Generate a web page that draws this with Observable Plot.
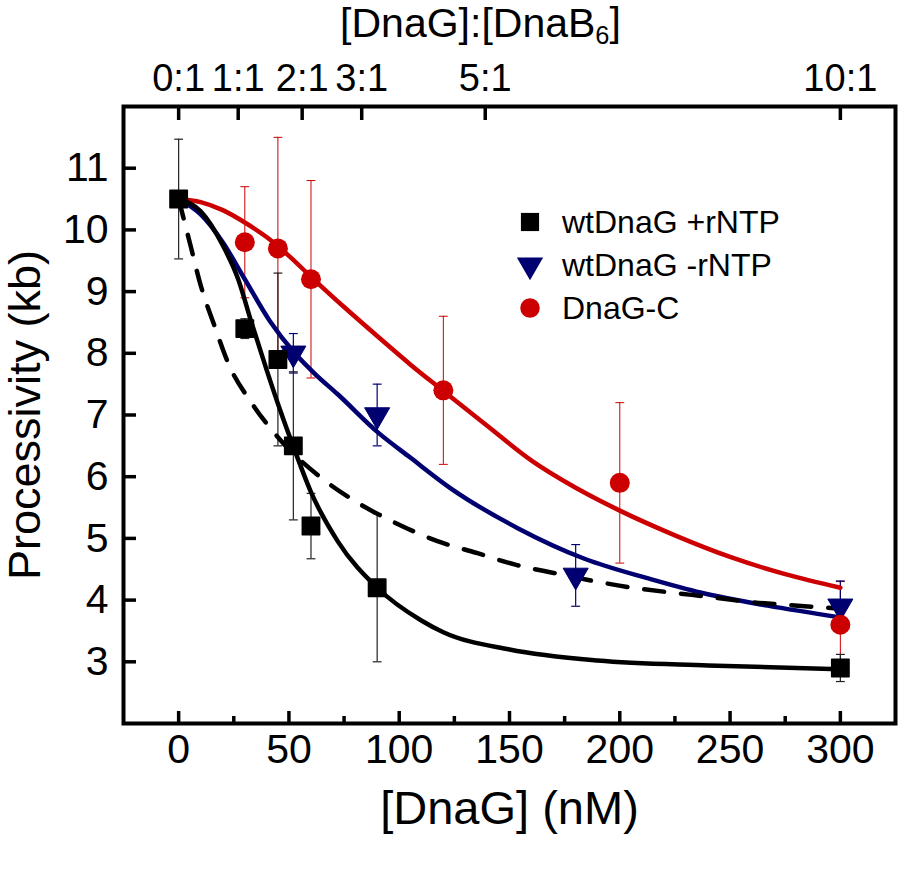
<!DOCTYPE html>
<html><head><meta charset="utf-8">
<script src="https://cdn.jsdelivr.net/npm/d3@7"></script>
<script src="https://cdn.jsdelivr.net/npm/@observablehq/plot@0.6"></script>
<style>
body{margin:0;background:#fff;}
#wrap{position:relative;width:899px;height:890px;font-family:"Liberation Sans",Arial,sans-serif;}
#wrap svg{font-family:"Liberation Sans",Arial,sans-serif;overflow:visible;}
g[aria-label="x-axis label"]{font-size:47px;}
g[aria-label="y-axis label"]{font-size:45px;}
g[aria-label="x-axis tick label"], g[aria-label="y-axis tick label"]{font-size:41px;}
#legend{position:absolute;left:0;top:0;pointer-events:none;}
</style>
</head><body>
<div id="wrap"></div>
<script>
// ---- measured points ----
const conc_rNTP = [0, 30, 45, 52, 60, 90, 300];
const proc_rNTP = [10.5, 8.4, 7.9, 6.5, 5.2, 4.2, 2.9];
const err_rNTP  = [0.97, 0.16, 1.4, 1.2, 0.53, 1.2, 0.22];

const conc_noNTP = [52, 90, 180, 300];
const proc_noNTP = [8.0, 7.0, 4.4, 3.9];
const err_noNTP  = [0.32, 0.5, 0.5, 0.41];

const conc_C = [30, 45, 60, 120, 200, 300];
const proc_C = [9.8, 9.7, 9.2, 7.4, 5.9, 3.6];
const err_C  = [0.9, 1.8, 1.6, 1.2, 1.3, 0.7];

// ---- fitted curves ----
const fitX_rNTP = [0, 10, 20, 27, 33, 40, 46, 52.7, 60, 72, 90, 110, 120, 150, 190, 240, 300];
const fitY_rNTP = [10.5, 10.3, 9.75, 9.2, 8.5, 7.72, 7.08, 6.42, 5.75, 4.96, 4.2, 3.67, 3.48, 3.2, 3.02, 2.94, 2.88];

const fitX_dash = [0, 5.5, 10, 16, 22.7, 33, 46, 64, 82, 99.5, 117, 135.5, 153, 170, 206, 224, 241, 259, 277, 300];
const fitY_dash = [10.5, 9.73, 9.1, 8.47, 7.82, 7.2, 6.6, 6.0, 5.56, 5.23, 4.96, 4.76, 4.57, 4.44, 4.2, 4.12, 4.05, 3.97, 3.92, 3.86];

const fitX_noNTP = [0, 10, 20, 30, 41.4, 52.7, 62, 72, 90.6, 105, 123, 153.5, 184, 214, 237, 267, 300];
const fitY_noNTP = [10.5, 10.25, 9.8, 9.2, 8.52, 8.0, 7.66, 7.34, 6.71, 6.31, 5.82, 5.17, 4.67, 4.34, 4.12, 3.91, 3.72];

const fitX_C = [0, 10, 20, 30, 40, 50, 60, 75, 90, 105, 120, 140, 160, 180, 200, 225, 250, 275, 300];
const fitY_C = [10.5, 10.45, 10.32, 10.12, 9.88, 9.58, 9.24, 8.75, 8.28, 7.82, 7.39, 6.82, 6.26, 5.82, 5.45, 5.05, 4.7, 4.42, 4.2];

// ---- axes ----
const xTicks = [0, 50, 100, 150, 200, 250, 300];
const xMinorTicks = [25, 75, 125, 175, 225, 275];
const yTicks = [3, 4, 5, 6, 7, 8, 9, 10, 11];
const ratioTicks = [0, 27, 56, 83, 139, 300];
const ratioLabels = ["0:1", "1:1", "2:1", "3:1", "5:1", "10:1"];

const seriesNames = ["wtDnaG +rNTP", "wtDnaG -rNTP", "DnaG-C"];
const colBlack = "#000000", colNavy = "#000070", colRed = "#cc0000";

// ---- tables ----
const pts = (xs, ys, es) => xs.map((x, i) => ({x, y: ys[i], e: es[i]}));
const crv = (xs, ys) => xs.map((x, i) => ({x, y: ys[i]}));
const dA = pts(conc_rNTP, proc_rNTP, err_rNTP);
const dB = pts(conc_noNTP, proc_noNTP, err_noNTP);
const dC = pts(conc_C, proc_C, err_C);
const cA = crv(fitX_rNTP, fitY_rNTP);
const cD = crv(fitX_dash, fitY_dash);
const cB = crv(fitX_noNTP, fitY_noNTP);
const cC = crv(fitX_C, fitY_C);
const ratioMap = new Map(ratioTicks.map((t, i) => [t, ratioLabels[i]]));

const cap = {draw(ctx, size){ const w = Math.sqrt(size); ctx.moveTo(-w/2, 0); ctx.lineTo(w/2, 0); }};

function errMarks(d, color, w) {
  return [
    Plot.ruleX(d, {x: "x", y1: r => r.y - r.e, y2: r => r.y + r.e, stroke: color, strokeWidth: w}),
    Plot.dot(d, {x: "x", y: r => r.y + r.e, symbol: cap, r: 5, stroke: color, strokeWidth: w}),
    Plot.dot(d, {x: "x", y: r => r.y - r.e, symbol: cap, r: 5, stroke: color, strokeWidth: w})
  ];
}

const chart = Plot.plot({
  width: 899, height: 890,
  marginLeft: 123, marginRight: 4, marginTop: 106, marginBottom: 167,
  style: {fontFamily: '"Liberation Sans", Arial, sans-serif', background: "#fff", color: "#000"},
  x: {domain: [-25, 325]},
  y: {domain: [2, 12]},
  marks: [
    ...errMarks(dC, colRed, 1),
    ...errMarks(dB, colNavy, 1.2),
    ...errMarks(dA, "#222", 1.2),
    Plot.line(cC, {x: "x", y: "y", stroke: colRed, strokeWidth: 4.5, curve: "monotone-x"}),
    Plot.line(cB, {x: "x", y: "y", stroke: colNavy, strokeWidth: 4.5, curve: "monotone-x"}),
    Plot.line(cD, {x: "x", y: "y", stroke: colBlack, strokeWidth: 4.5, strokeDasharray: "20,17", curve: "monotone-x"}),
    Plot.line(cA, {x: "x", y: "y", stroke: colBlack, strokeWidth: 4.5, curve: "monotone-x"}),
    Plot.dot(dB, {x: "x", y: "y", symbol: "triangle", rotate: 180, r: 9.3, fill: colNavy, stroke: colNavy, strokeWidth: 1, strokeLinejoin: "round"}),
    Plot.dot(dC, {x: "x", y: "y", symbol: "circle", r: 10, fill: colRed, stroke: "none"}),
    Plot.dot(dA, {x: "x", y: "y", symbol: "square", r: 9.8, fill: colBlack, stroke: colBlack, strokeWidth: 1.5, strokeLinejoin: "round"}),
    Plot.frame({stroke: "#000", strokeWidth: 4}),
    // bottom axis
    Plot.axisX({anchor: "bottom", ticks: xTicks, tickSize: 0, tickPadding: 10, label: "[DnaG] (nM)", labelAnchor: "center", labelArrow: "none", labelOffset: 100}),
    Plot.axisX({anchor: "bottom", ticks: xTicks, tickSize: -12, strokeWidth: 3.5, tickFormat: () => "", label: null}),
    Plot.axisX({anchor: "bottom", ticks: xMinorTicks, tickSize: -7, strokeWidth: 3.5, tickFormat: () => "", label: null}),
    // top axis
    Plot.axisX({anchor: "top", ticks: ratioTicks, tickSize: 0, tickPadding: 16, tickFormat: d => ratioMap.get(d), label: "[DnaG]:[DnaB6]", labelAnchor: "center", labelArrow: "none", labelOffset: 99}),
    Plot.axisX({anchor: "top", ticks: ratioTicks, tickSize: -13, strokeWidth: 3.5, tickFormat: () => "", label: null}),
    // left axis
    Plot.axisY({anchor: "left", ticks: yTicks, tickSize: 0, tickPadding: 15, label: "Processivity (kb)", labelAnchor: "center", labelArrow: "none", labelOffset: 115}),
    Plot.axisY({anchor: "left", ticks: yTicks, tickSize: -13, strokeWidth: 3.5, tickFormat: () => "", label: null})
  ]
});

document.getElementById("wrap").appendChild(chart);

// top axis tick labels a bit smaller (as in the original)
const ratioSet = new Set(ratioLabels);
d3.select(chart).selectAll("text").each(function() {
  if (ratioSet.has(this.textContent)) d3.select(this).attr("font-size", 38).style("font-size", "38px");
});

// subscript in the top title, nudged left as in the original
d3.select(chart).selectAll("text").each(function() {
  if (this.textContent === "[DnaG]:[DnaB6]") {
    const t = d3.select(this);
    const prev = t.attr("transform") || "";
    t.style("font-size", "41px").attr("transform", `translate(-29,0) ${prev}`);
    t.text("");
    t.append("tspan").text("[DnaG]:[DnaB");
    t.append("tspan").attr("font-size", "0.62em").attr("dy", "0.3em").text("6");
    t.append("tspan").attr("dy", "-0.19em").text("]");
  }
});

// legend
const legendSymbols = [d3.symbolSquare, d3.symbolTriangle, d3.symbolCircle];
const legendColors = [colBlack, colNavy, colRed];
const legendSizes = [330, 300, 300];
const legendRot = [0, 180, 0];
const lg = d3.select("#wrap").append("svg").attr("id", "legend").attr("width", 899).attr("height", 890);
seriesNames.forEach((name, i) => {
  const cy = 222 + i * 43;
  lg.append("path")
    .attr("d", d3.symbol(legendSymbols[i], legendSizes[i])())
    .attr("transform", `translate(530,${cy}) rotate(${legendRot[i]})`)
    .attr("fill", legendColors[i]);
  lg.append("text").attr("x", 562).attr("y", cy + 11)
    .attr("font-family", '"Liberation Sans", Arial, sans-serif').attr("font-size", 32)
    .attr("fill", "#000").text(name);
});
</script>
</body></html>
